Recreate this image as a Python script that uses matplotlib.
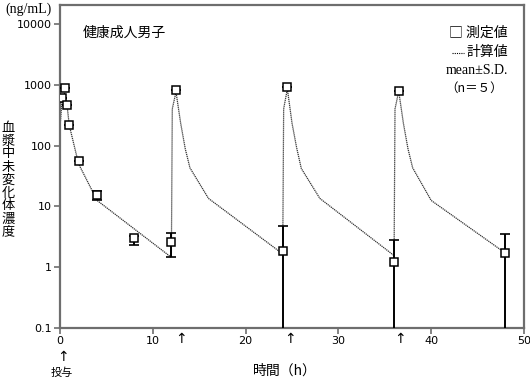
import matplotlib
matplotlib.use("Agg")
import matplotlib.pyplot as plt
from matplotlib.lines import Line2D

# ---- data ----
sim_t = [0, 0.25, 0.5, 0.75, 1, 2, 4, 12,
         12.1, 12.5, 13, 13.5, 14, 16, 24,
         24.1, 24.5, 25, 25.5, 26, 28, 36,
         36.1, 36.5, 37, 37.5, 38, 40, 48]
sim_v = [200, 650, 720, 470, 215, 50, 12.5, 1.45,
         400, 760, 234, 88, 43, 13.5, 1.65,
         400, 850, 234, 92, 42, 13.5, 1.55,
         400, 780, 234, 88, 43, 12.5, 1.7]

meas_t = [0.25, 0.5, 0.75, 1, 2, 4, 8, 12, 12.5, 24, 24.5, 36, 36.5, 48]
meas_v = [600, 880, 460, 215, 55, 15.5, 3.0, 2.6, 805, 1.85, 900, 1.2, 800, 1.7]
meas_lo = [600, 880, 460, 215, 55, 12.7, 2.35, 1.45, 805, 0.01, 900, 0.01, 800, 0.01]
meas_hi = [600, 880, 460, 215, 55, 18.0, 3.3, 3.7, 805, 4.7, 900, 2.85, 800, 3.55]

x_ticks = [0, 10, 20, 30, 40, 50]
y_ticks = [0.1, 1, 10, 100, 1000, 10000]
y_ticklabels = ["0.1", "1", "10", "100", "1000", "10000"]
dose_arrow_x = [13.0, 24.8, 36.6]

JP = ["Noto Sans CJK JP", "DejaVu Sans"]
W, H = 530, 379

fig = plt.figure(figsize=(W / 100, H / 100), dpi=100)
ax = fig.add_axes([60 / W, 1 - 328 / H, (524 - 60) / W, (328 - 5) / H])
ax.set_yscale("log")
ax.set_xlim(0, 50)
ax.set_ylim(0.1, 10 ** 4.31)

axcol = "#6e6e6e"
for s in ax.spines.values():
    s.set_color(axcol)
    s.set_linewidth(1.6)

ax.set_xticks(x_ticks)
ax.set_xticklabels([str(v) for v in x_ticks])
ax.set_yticks(y_ticks)
ax.set_yticklabels(y_ticklabels)
ax.minorticks_off()
ax.tick_params(direction="out", length=4, width=1.2, color=axcol,
               labelsize=8, pad=2)

# calculated curve
ax.plot(sim_t, sim_v, color="#333333", lw=0.9, ls=(0, (1, 0.6)), zorder=2)

# measured with error bars
lo = [v - l for v, l in zip(meas_v, meas_lo)]
hi = [h - v for v, h in zip(meas_v, meas_hi)]
ax.errorbar(meas_t, meas_v, yerr=[lo, hi], fmt="none", ecolor="black",
            elinewidth=1.4, capsize=3.5, capthick=1.2, zorder=3)
ax.plot(meas_t, meas_v, ls="none", marker="s", markersize=5.4,
        markerfacecolor="white", markeredgecolor="black",
        markeredgewidth=1.1, zorder=4)

def ftext(x, y, s, **kw):
    fig.text(x / W, 1 - y / H, s, **kw)

ftext(28, 9, "(ng/mL)", family="Liberation Serif", fontsize=10,
      ha="center", va="center")
ftext(83, 33, "健康成人男子", family=JP, fontsize=10, ha="left", va="center")

# y label stacked
ylab = "血漿中未変化体濃度"
ftext(8, 180, "\n".join(ylab), family=JP, fontsize=9.5, ha="center",
      va="center", linespacing=1.0)

# legend
ftext(508, 33, "□ 測定値", family=JP, fontsize=10, ha="right", va="center")
fig.add_artist(Line2D([452 / W, 464 / W], [1 - 53 / H, 1 - 53 / H],
                      color="black", lw=0.8, ls=(0, (1, 1))))
ftext(508, 52, "計算値", family=JP, fontsize=10, ha="right", va="center")
ftext(508, 70, "mean±S.D.", family="Liberation Serif", fontsize=10,
      ha="right", va="center")
ftext(474, 88, "（n＝５）", family=JP, fontsize=9, ha="center", va="center")

# dose arrows
for xd in dose_arrow_x:
    ax.annotate("↑", xy=(xd, 0), xycoords=("data", "axes fraction"),
                xytext=(0, -8), textcoords="offset points",
                ha="center", va="center", fontsize=10, family="DejaVu Sans")
ax.annotate("↑", xy=(0.3, 0), xycoords=("data", "axes fraction"),
            xytext=(0, -21), textcoords="offset points",
            ha="center", va="center", fontsize=10, family="DejaVu Sans")
ftext(62, 373, "投与", family=JP, fontsize=8, ha="center", va="center")
ftext(285, 371, "時間（h）", family=JP, fontsize=10, ha="center", va="center")

fig.savefig("out.png", dpi=100)
